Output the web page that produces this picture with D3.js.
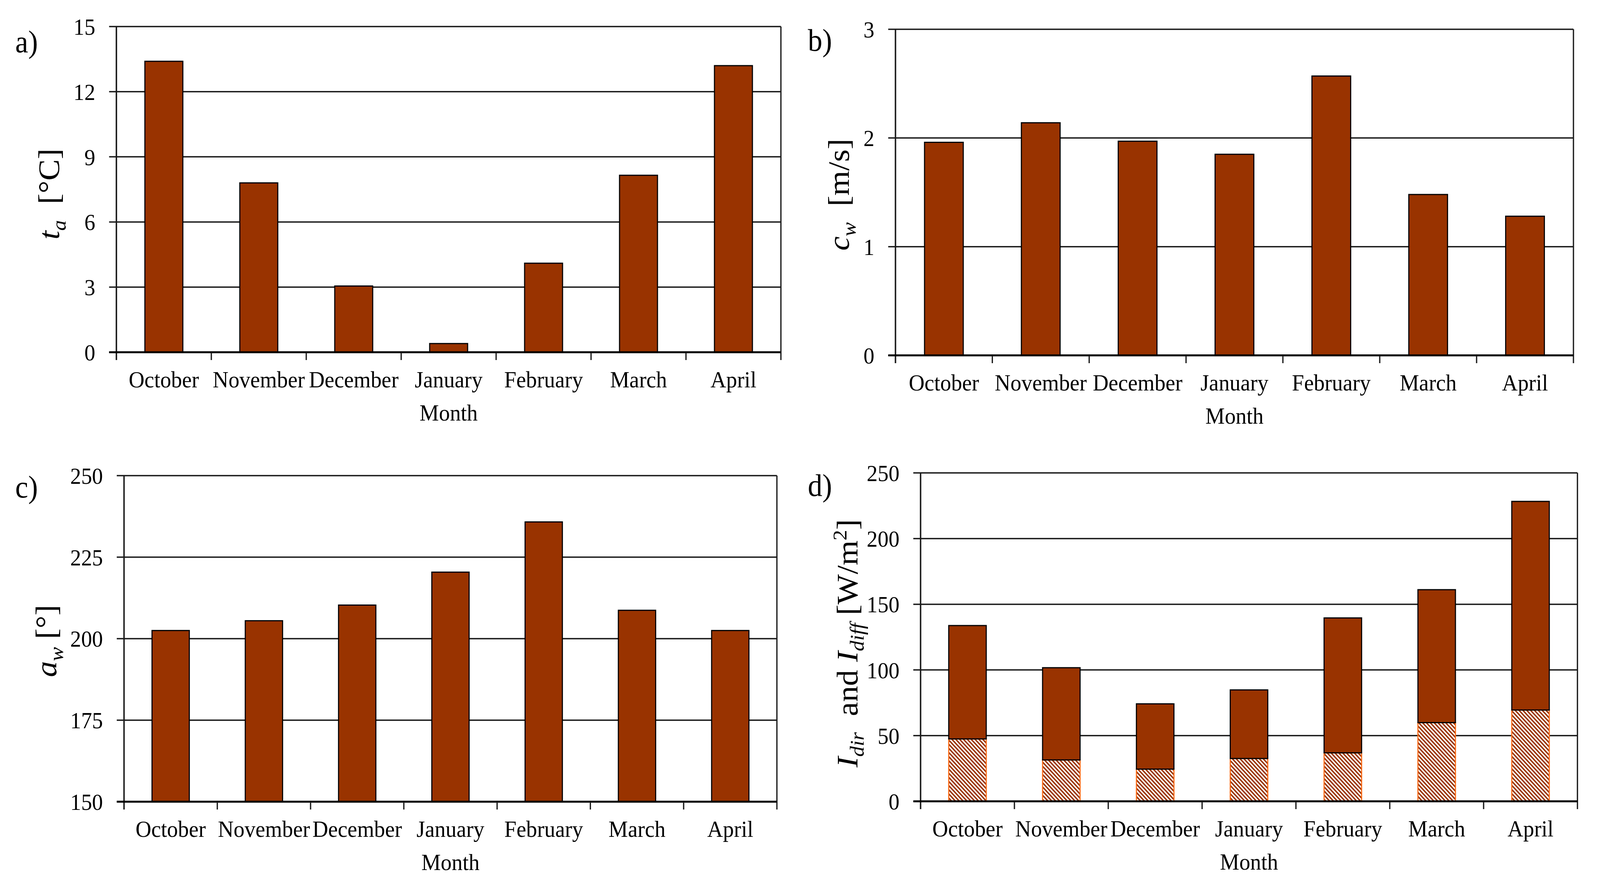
<!DOCTYPE html>
<html>
<head>
<meta charset="utf-8">
<script src="https://cdn.jsdelivr.net/npm/d3@7"></script>
<style>
  html, body { margin: 0; padding: 0; overflow: hidden; background: #fff; }
  svg { display: block; }
  text { font-family: "Liberation Serif", "Times New Roman", serif; fill: #000; }
</style>
</head>
<body>
<script>
// months on every x axis
const months = ["October", "November", "December", "January", "February", "March", "April"];

// a) air temperature
const taValues = [13.4, 7.8, 3.05, 0.4, 4.1, 8.15, 13.2];
const taTicks = [0, 3, 6, 9, 12, 15];
// b) wind speed
const cwValues = [1.96, 2.14, 1.97, 1.85, 2.57, 1.48, 1.28];
const cwTicks = [0, 1, 2, 3];
// c) wind direction
const awValues = [202.5, 205.5, 210.3, 220.4, 235.8, 208.7, 202.5];
const awTicks = [150, 175, 200, 225, 250];
// d) radiation, hatched bottom part and solid top part
const idiffValues = [47.5, 31.5, 24.5, 32.6, 36.9, 59.9, 69.5];
const idirValues = [86.3, 70.2, 49.7, 52.2, 102.7, 101.2, 158.8];
const iTicks = [0, 50, 100, 150, 200, 250];

const W = 4399, H = 2274;
const barColor = "#993300";

// the window is not always exactly W x H, so stretch the drawing to fill it
let svg = d3.select("body").append("svg")
    .attr("viewBox", "0 0 " + W + " " + H)
    .attr("preserveAspectRatio", "none")
    .style("width", "100vw")
    .style("height", "100vh");

svg.append("rect").attr("width", W).attr("height", H).attr("fill", "#fff");

// hatch for the lower stacked part of d)
let defs = svg.append("defs");
let pat = defs.append("pattern")
    .attr("id", "hatch")
    .attr("patternUnits", "userSpaceOnUse")
    .attr("width", 7.5)
    .attr("height", 7.5)
    .attr("patternTransform", "rotate(-45)");
pat.append("rect").attr("width", 7.5).attr("height", 7.5).attr("fill", "#fff");
pat.append("rect").attr("width", 3.8).attr("height", 7.5).attr("fill", barColor);

function drawPanel(p) {
    let g = svg.append("g");
    let x = d3.scaleBand()
        .domain(months)
        .range([p.x0, p.x1])
        .paddingInner(0.6)
        .paddingOuter(0.3);
    let y = d3.scaleLinear()
        .domain([p.ticks[0], p.ticks[p.ticks.length - 1]])
        .range([p.y1, p.y0]);
    let step = x.step();

    // gridlines (with a short tick left of the axis)
    g.append("g").selectAll("line")
        .data(p.ticks)
        .enter().append("line")
        .attr("x1", p.x0 - 20)
        .attr("x2", p.x1)
        .attr("y1", d => y(d))
        .attr("y2", d => y(d))
        .style("stroke", "#1a1a1a")
        .style("stroke-width", 3.5);

    // bars
    if (p.stack) {
        let rows = months.map((m, i) => ({ month: m, diff: p.stack[0][i], dir: p.stack[1][i] }));
        let series = d3.stack().keys(["diff", "dir"])(rows);
        g.append("g").selectAll("rect")
            .data(series[0])
            .enter().append("rect")
            .attr("x", d => x(d.data.month))
            .attr("width", x.bandwidth())
            .attr("y", d => y(d[1]))
            .attr("height", d => y(d[0]) - y(d[1]))
            .style("fill", "url(#hatch)")
            .style("stroke", "#ff6a13")
            .style("stroke-width", 3);
        g.append("g").selectAll("rect")
            .data(series[1])
            .enter().append("rect")
            .attr("x", d => x(d.data.month))
            .attr("width", x.bandwidth())
            .attr("y", d => y(d[1]))
            .attr("height", d => y(d[0]) - y(d[1]))
            .style("fill", barColor)
            .style("stroke", "#000")
            .style("stroke-width", 3);
    } else {
        g.append("g").selectAll("rect")
            .data(p.values)
            .enter().append("rect")
            .attr("x", (d, i) => x(months[i]))
            .attr("width", x.bandwidth())
            .attr("y", d => y(d))
            .attr("height", d => y.range()[0] - y(d))
            .style("fill", barColor)
            .style("stroke", "#000")
            .style("stroke-width", 3);
    }

    // axes and right border
    g.append("line")
        .attr("x1", p.x0).attr("x2", p.x0)
        .attr("y1", p.y0).attr("y2", p.y1 + 20)
        .style("stroke", "#1a1a1a").style("stroke-width", 4);
    g.append("line")
        .attr("x1", p.x1).attr("x2", p.x1)
        .attr("y1", p.y0).attr("y2", p.y1 + 20)
        .style("stroke", "#1a1a1a").style("stroke-width", 3.5);
    g.append("line")
        .attr("x1", p.x0 - 20).attr("x2", p.x1)
        .attr("y1", p.y1).attr("y2", p.y1)
        .style("stroke", "#000").style("stroke-width", 5);
    // category ticks at band edges
    g.append("g").selectAll("line")
        .data(d3.range(1, months.length))
        .enter().append("line")
        .attr("x1", d => p.x0 + d * step)
        .attr("x2", d => p.x0 + d * step)
        .attr("y1", p.y1)
        .attr("y2", p.y1 + 20)
        .style("stroke", "#1a1a1a").style("stroke-width", 3.5);

    // y tick labels
    g.append("g").selectAll("text")
        .data(p.ticks)
        .enter().append("text")
        .attr("x", p.x0 - 58)
        .attr("y", d => y(d))
        .attr("dy", "0.35em")
        .style("text-anchor", "end")
        .style("font-size", "60px")
        .text(d => d);

    // x tick labels
    g.append("g").selectAll("text")
        .data(months)
        .enter().append("text")
        .attr("x", d => x(d) + x.bandwidth() / 2)
        .attr("y", p.y1 + 90)
        .style("text-anchor", "middle")
        .style("font-size", "60px")
        .text(d => d);

    g.append("text")
        .attr("x", (p.x0 + p.x1) / 2)
        .attr("y", p.y1 + 175)
        .style("text-anchor", "middle")
        .style("font-size", "60px")
        .text("Month");

    // panel letter
    g.append("text")
        .attr("x", p.letterX)
        .attr("y", p.letterY)
        .style("font-size", "80px")
        .text(p.letter);

    // rotated y label built from tspans
    let lab = g.append("text")
        .attr("transform", "translate(" + p.labelX + "," + ((p.y0 + p.y1) / 2 + p.labelShift) + ") rotate(-90)")
        .style("text-anchor", "middle")
        .style("font-size", "82px");
    p.label.forEach(part => {
        let t = lab.append("tspan").text(part.t);
        if (part.i) t.style("font-style", "italic");
        if (part.sub) t.style("font-size", "54px").attr("dy", 18);
        if (part.sup) t.style("font-size", "54px").attr("dy", -30);
        if (part.back) t.attr("dy", part.back);
    });
}

drawPanel({
    x0: 320, x1: 2147, y0: 68, y1: 902,
    values: taValues, ticks: taTicks,
    letter: "a)", letterX: 42, letterY: 134,
    labelX: 162, labelShift: 12,
    label: [{ t: "t", i: true }, { t: "a", i: true, sub: true }, { t: "\u00a0\u00a0[\u00b0C]", back: -18 }]
});

drawPanel({
    x0: 2462, x1: 4326, y0: 75, y1: 910,
    values: cwValues, ticks: cwTicks,
    letter: "b)", letterX: 2221, letterY: 130,
    labelX: 2334, labelShift: 6,
    label: [{ t: "c", i: true }, { t: "w", i: true, sub: true }, { t: "\u00a0\u00a0[m/s]", back: -18 }]
});

drawPanel({
    x0: 341, x1: 2136, y0: 1218, y1: 2053,
    values: awValues, ticks: awTicks,
    letter: "c)", letterX: 42, letterY: 1274,
    labelX: 155, labelShift: 6,
    label: [{ t: "a", i: true }, { t: "w", i: true, sub: true }, { t: "\u00a0[\u00b0]", back: -18 }]
});

drawPanel({
    x0: 2531, x1: 4337, y0: 1211, y1: 2052,
    stack: [idiffValues, idirValues], ticks: iTicks,
    letter: "d)", letterX: 2221, letterY: 1270,
    labelX: 2357, labelShift: 16,
    label: [
        { t: "I", i: true }, { t: "dir", i: true, sub: true },
        { t: "\u00a0\u00a0and ", back: -18 },
        { t: "I", i: true }, { t: "diff", i: true, sub: true },
        { t: "\u00a0[W/m", back: -18 }, { t: "2", sup: true }, { t: "]", back: 30 }
    ]
});
</script>
</body>
</html>
